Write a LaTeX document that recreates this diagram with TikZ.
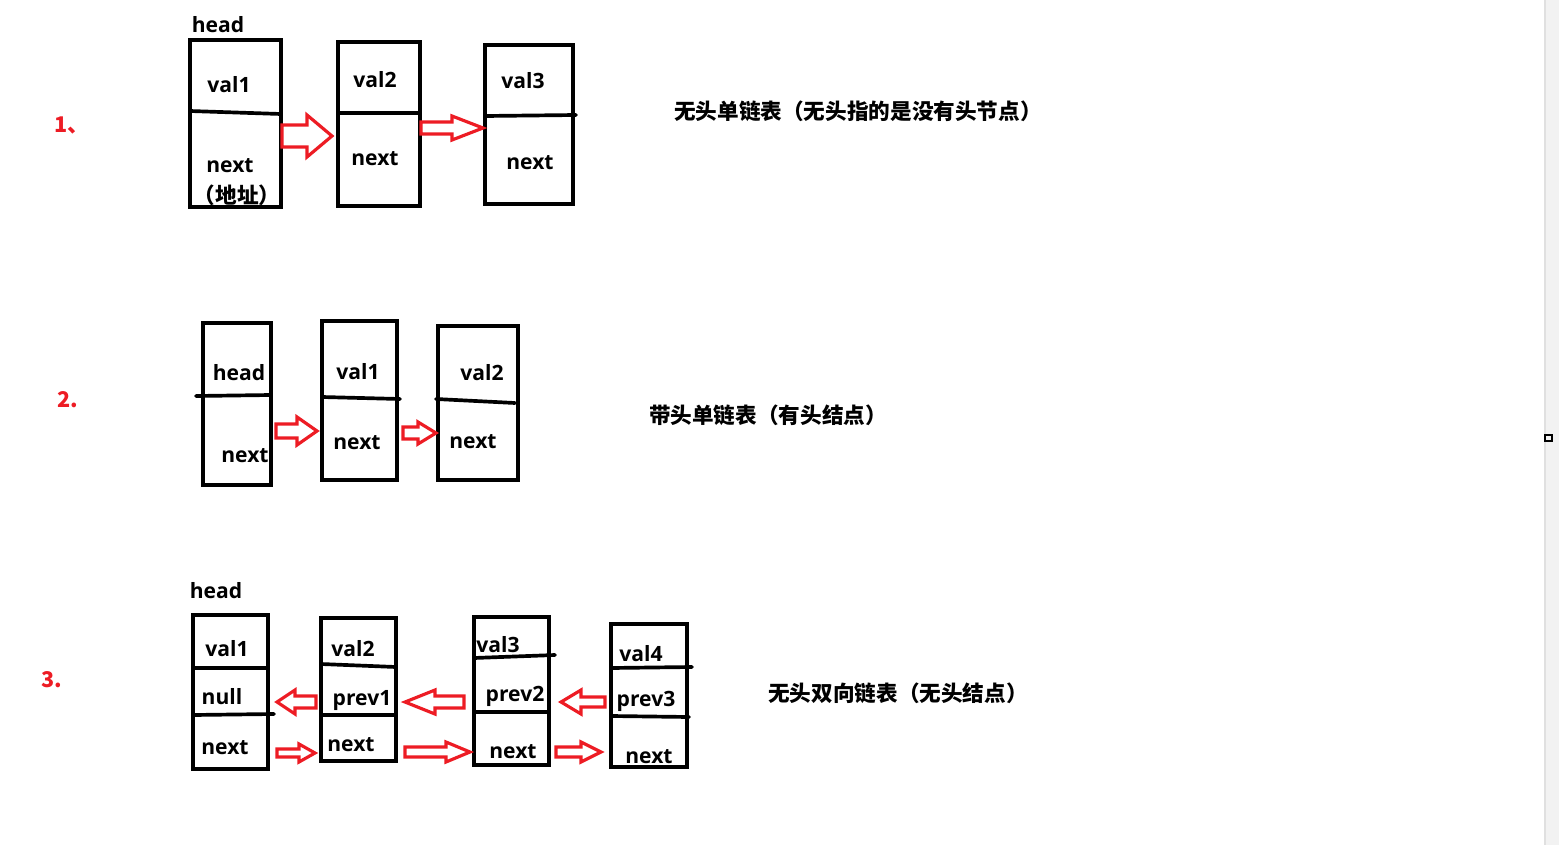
\documentclass[tikz,border=0pt]{standalone}
\usepackage{fontspec}
\setmainfont{Open Sans}
\newfontfamily\cjk{Noto Sans CJK SC}
\definecolor{paintred}{RGB}{237,28,36}
\tikzset{
  box/.style={line width=2.3pt},
  sep/.style={line width=2.1pt, line cap=round},
  lbl/.style={font=\bfseries\fontsize{12}{14}\selectfont, inner sep=0pt, text depth=0pt},
  cn/.style={font=\cjk\bfseries\fontsize{12.3}{14}\selectfont, inner sep=0pt},
  num/.style={font=\cjk\bfseries\fontsize{12.3}{14}\selectfont, text=paintred, inner sep=0pt},
  blk/.style={draw=paintred, line width=1.8pt, fill=white, line join=miter},
}
\newcommand{\blockarrow}[6]{\draw[blk] (#1,#4-#5) -- (#2,#4-#5) -- (#2,#4-#6) -- (#3,#4) -- (#2,#4+#6) -- (#2,#4+#5) -- (#1,#4+#5) -- cycle;}

\begin{document}
\begin{tikzpicture}[x=0.02cm, y=-0.02cm]
\useasboundingbox (0,0) rectangle (1559,845);
\fill[black!5] (1545,0) rectangle (1559,845);
\draw[black!12, line width=0.6pt] (1545,0) -- (1545,845);
\draw[line width=0.8pt] (1545,435) rectangle (1552,441);
\node[num] (n1) at (72,125) {1、};
\draw[box] (190,40) rectangle (281,207);
\draw[sep] (190,111) -- (281,114);
\node[lbl] (h1) at (218,24) {head};
\node[lbl] (a1v) at (229,84) {val1};
\node[lbl] (a1n) at (230,166) {next};
\node[cn] (a1d) at (237,195) {（地址）};
\draw[box] (338,42) rectangle (420,206);
\draw[sep] (338,113) -- (420,113);
\node[lbl] (a2v) at (375,79) {val2};
\node[lbl] (a2n) at (375,159) {next};
\draw[box] (485,45) rectangle (573,204);
\draw[sep] (485,116) -- (576,115);
\node[lbl] (a3v) at (523,80) {val3};
\node[lbl] (a3n) at (530,163) {next};
\blockarrow{282}{307}{332}{136}{11}{21}
\blockarrow{421}{452}{483}{128}{6}{12}
\node[cn] (t1) at (858,111) {无头单链表（无头指的是没有头节点）};
\node[num] (n2) at (68,400) {2.};
\draw[box] (203,323) rectangle (271,485);
\draw[sep] (196,396) -- (271,395);
\node[lbl] (b0v) at (239,372) {head};
\node[lbl] (b0n) at (245,456) {next};
\draw[box] (322,321) rectangle (397,480);
\draw[sep] (322,397) -- (400,399);
\node[lbl] (b1v) at (358,371) {val1};
\node[lbl] (b1n) at (357,443) {next};
\draw[box] (438,326) rectangle (518,480);
\draw[sep] (436,399) -- (515,403);
\node[lbl] (b2v) at (482,372) {val2};
\node[lbl] (b2n) at (473,442) {next};
\blockarrow{276}{297}{317}{431}{7}{14}
\blockarrow{403}{418}{436}{433}{6}{11}
\node[cn] (t2) at (768,415) {带头单链表（有头结点）};
\node[num] (n3) at (52,680) {3.};
\node[lbl] (h3) at (216,590) {head};
\draw[box] (193,615) rectangle (268,769);
\draw[sep] (193,668) -- (268,668);
\draw[sep] (193,715) -- (274,714);
\node[lbl] (c1v) at (227,648) {val1};
\node[lbl] (c1p) at (222,696) {null};
\node[lbl] (c1n) at (225,748) {next};
\draw[box] (321,618) rectangle (396,761);
\draw[sep] (321,664) -- (396,667);
\draw[sep] (321,715) -- (396,715);
\node[lbl] (c2v) at (353,648) {val2};
\node[lbl, fill=white] (c2p) at (362,698) {prev1};
\node[lbl] (c2n) at (351,745) {next};
\draw[box] (474,617) rectangle (549,765);
\draw[sep] (474,658) -- (555,655);
\draw[sep] (474,712) -- (549,712);
\node[lbl] (c3v) at (498,644) {val3};
\node[lbl] (c3p) at (515,694) {prev2};
\node[lbl] (c3n) at (513,752) {next};
\draw[box] (611,624) rectangle (687,767);
\draw[sep] (611,668) -- (692,667);
\draw[sep] (611,716) -- (689,717);
\node[lbl] (c4v) at (641,653) {val4};
\node[lbl] (c4p) at (646,699) {prev3};
\node[lbl] (c4n) at (649,757) {next};
\blockarrow{316}{295}{277}{702}{6}{12}
\blockarrow{464}{435}{405}{702}{6}{12}
\blockarrow{605}{581}{561}{702}{5}{12}
\blockarrow{277}{299}{315}{753}{4}{9}
\blockarrow{405}{446}{470}{752}{5}{10}
\blockarrow{556}{581}{601}{752}{5}{10}
\node[cn] (t3) at (898,693) {无头双向链表（无头结点）};
\end{tikzpicture}
\end{document}
